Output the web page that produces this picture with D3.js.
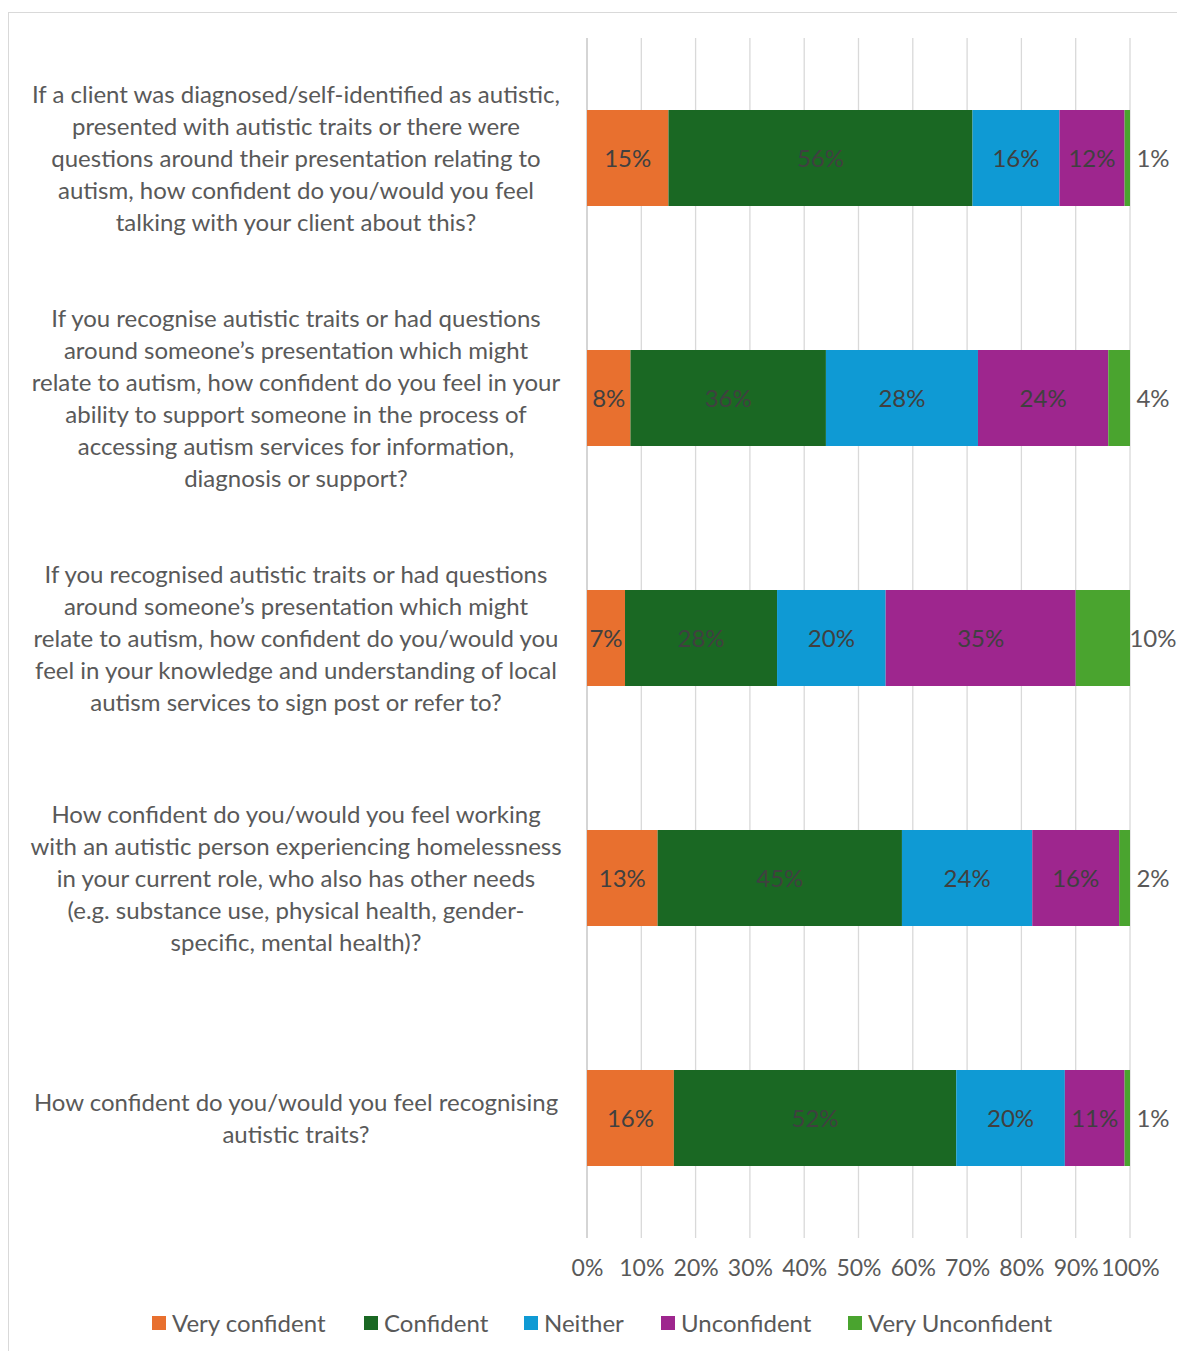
<!DOCTYPE html>
<html><head><meta charset="utf-8">
<script src="https://cdn.jsdelivr.net/npm/d3@7"></script>
<style>body{margin:0;background:#fff;}svg{display:block;}</style>
</head><body>
<script>
const categories = [
  ["If a client was diagnosed/self-identified as autistic,","presented with autistic traits or there were","questions around their presentation relating to","autism, how confident do you/would you feel","talking with your client about this?"],
  ["If you recognise autistic traits or had questions","around someone\u2019s presentation which might","relate to autism, how confident do you feel in your","ability to support someone in the process of","accessing autism services for information,","diagnosis or support?"],
  ["If you recognised autistic traits or had questions","around someone\u2019s presentation which might","relate to autism, how confident do you/would you","feel in your knowledge and understanding of local","autism services to sign post or refer to?"],
  ["How confident do you/would you feel working","with an autistic person experiencing homelessness","in your current role, who also has other needs","(e.g. substance use, physical health, gender-","specific, mental health)?"],
  ["How confident do you/would you feel recognising","autistic traits?"]
];
const seriesNames = ["Very confident","Confident","Neither","Unconfident","Very Unconfident"];
const veryConfident   = [15, 8, 7, 13, 16];
const confident       = [56, 36, 28, 45, 52];
const neither         = [16, 28, 20, 24, 20];
const unconfident     = [12, 24, 35, 16, 11];
const veryUnconfident = [1, 4, 10, 2, 1];
const tickValues = [0,10,20,30,40,50,60,70,80,90,100];
const colors = ["#E8702F","#1A6823","#0F9AD4","#9E268E","#4AA42F"];

const W = 1177, H = 1351;
const font = "Lato, 'Open Sans', sans-serif";
const svg = d3.select("body").append("svg").attr("width", W).attr("height", H);
svg.append("rect").attr("x", 8.5).attr("y", 12.5).attr("width", W + 10).attr("height", H + 10)
  .attr("fill", "#fff").attr("stroke", "#d9d9d9");

const x = d3.scaleLinear().domain([0, 100]).range([587, 1130]);
const y = d3.scaleBand().domain(d3.range(categories.length)).range([38, 1238]).paddingInner(0.6).paddingOuter(0.3);

const seriesVals = [veryConfident, confident, neither, unconfident, veryUnconfident];
const rows = categories.map((c, i) => { const o = {i}; seriesNames.forEach((s, k) => o[s] = seriesVals[k][i]); return o; });
const stacked = d3.stack().keys(seriesNames)(rows);

// gridlines
svg.append("g").selectAll("line").data(tickValues).join("line")
  .attr("x1", d => x(d)).attr("x2", d => x(d)).attr("y1", 38).attr("y2", 1238)
  .attr("stroke", d => d === 0 ? "#bfbfbf" : "#d9d9d9").attr("stroke-width", 1.3);

// axis
const axis = svg.append("g").attr("transform", "translate(0,1238)")
  .call(d3.axisBottom(x).tickValues(tickValues).tickFormat(d => d + "%").tickSize(0).tickPadding(22));
axis.select(".domain").remove();
axis.selectAll("text").attr("font-family", font).attr("font-size", 23).attr("fill", "#595959");

// bars
stacked.forEach((s, k) => {
  const g = svg.append("g");
  g.selectAll("rect").data(s).join("rect")
    .attr("x", d => x(d[0])).attr("width", d => x(d[1]) - x(d[0]))
    .attr("y", (d, i) => y(i)).attr("height", y.bandwidth()).attr("fill", colors[k]);
  g.selectAll("text").data(s).join("text")
    .attr("x", d => k === 4 ? x(100) + 23 : (x(d[0]) + x(d[1])) / 2)
    .attr("y", (d, i) => y(i) + y.bandwidth() / 2)
    .attr("dy", "0.36em").attr("text-anchor", "middle")
    .attr("font-family", font).attr("font-size", 24)
    .attr("fill", k === 4 ? "#595959" : "#404040")
    .text(d => (d[1] - d[0]) + "%");
});

// category labels
categories.forEach((lines, i) => {
  const cy = y(i) + y.bandwidth() / 2;
  const lh = 32;
  const t = svg.append("text").attr("text-anchor", "middle").attr("font-family", font)
    .attr("font-size", 24).attr("fill", "#595959");
  lines.forEach((l, j) => {
    t.append("tspan").attr("x", 296).attr("y", cy + (j - (lines.length - 1) / 2) * lh).attr("dy", "0.36em").text(l);
  });
});

// legend
const legendX = [152, 364, 524, 661, 848];
const lg = svg.append("g");
seriesNames.forEach((n, k) => {
  lg.append("rect").attr("x", legendX[k]).attr("y", 1316).attr("width", 14).attr("height", 14).attr("fill", colors[k]);
  lg.append("text").attr("x", legendX[k] + 20).attr("y", 1323).attr("dy", "0.36em")
    .attr("font-family", font).attr("font-size", 24).attr("fill", "#595959").text(n);
});
</script>
</body></html>
